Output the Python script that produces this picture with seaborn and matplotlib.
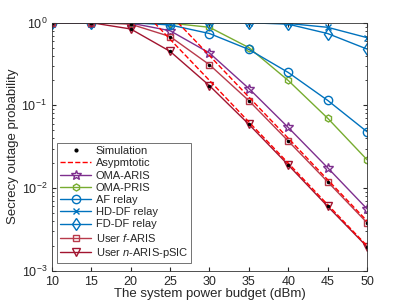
import matplotlib
matplotlib.use("Agg")
import matplotlib.pyplot as plt
import seaborn as sns
import pandas as pd
import numpy as np
from matplotlib.lines import Line2D

# power budget (dBm)
power = [10, 15, 20, 25, 30, 35, 40, 45, 50]

oma_aris = [1.0, 1.0, 0.99, 0.80, 0.43, 0.16, 0.054, 0.0176, 0.0056]
oma_pris = [1.0, 1.0, 1.0, 0.99, 0.88, 0.50, 0.20, 0.070, 0.022]
af_relay = [1.0, 1.0, 1.0, 0.94, 0.74, 0.475, 0.25, 0.115, 0.048]
hd_df = [1.0, 1.0, 1.0, 1.0, 1.0, 1.0, 0.98, 0.88, 0.66]
fd_df = [1.0, 1.0, 1.0, 1.0, 1.0, 1.0, 0.96, 0.74, 0.48]
user_f = [1.0, 1.0, 0.96, 0.68, 0.31, 0.114, 0.037, 0.0119, 0.0038]
user_n = [1.0, 1.0, 0.84, 0.45, 0.173, 0.059, 0.019, 0.006, 0.00195]

# asymptotic curves
asym_f_x = [26, 30, 35, 40, 45, 50]
asym_f_y = [1.0, 0.40, 0.126, 0.040, 0.0126, 0.0040]
asym_n_x = [23, 25, 30, 35, 40, 45, 50]
asym_n_y = [1.0, 0.63, 0.20, 0.063, 0.020, 0.0063, 0.0020]

sns.set_style("ticks")
plt.rcParams['font.family'] = ['Liberation Sans', 'DejaVu Sans']
plt.rcParams['mathtext.fontset'] = 'custom'
plt.rcParams['mathtext.it'] = 'Liberation Sans:italic'
plt.rcParams['mathtext.rm'] = 'Liberation Sans'
plt.rcParams['xtick.direction'] = 'in'
plt.rcParams['ytick.direction'] = 'in'

fig = plt.figure(figsize=(4.06, 3.05), dpi=100)
ax = fig.add_axes([0.128, 0.1125, 0.776, 0.813])

purple = '#7E2F8E'
green = '#77AC30'
blue = '#0072BD'
red_f = '#B83A4B'
red_n = '#A2142F'

series = [
    ('OMA-ARIS', oma_aris, purple, '*', 7),
    ('OMA-PRIS', oma_pris, green, 'h', 5),
    ('AF relay', af_relay, blue, 'o', 6),
    ('HD-DF relay', hd_df, blue, 'x', 5),
    ('FD-DF relay', fd_df, blue, 'd', 6),
    ('User $f$-ARIS', user_f, red_f, 's', 5),
    ('User $n$-ARIS-pSIC', user_n, red_n, 'v', 6),
]

handles = [Line2D([], [], color='k', marker='.', linestyle='none', markersize=4),
           Line2D([], [], color='red', linestyle='--', linewidth=1.0)]
labels = ['Simulation', 'Asypmtotic']

for name, vals, col, mk, ms in series:
    sns.lineplot(x=power, y=vals, ax=ax, color=col, linewidth=1.0, legend=False)
    ln = ax.lines[-1]
    ln.set_marker(mk)
    ln.set_markersize(ms)
    ln.set_markerfacecolor('none')
    ln.set_markeredgecolor(col)
    ln.set_markeredgewidth(1.0)
    handles.append(Line2D([], [], color=col, marker=mk, markersize=ms,
                          markerfacecolor='none', markeredgecolor=col, linewidth=1.0))
    labels.append(name)

sns.lineplot(x=asym_f_x, y=asym_f_y, ax=ax, color='red', linestyle='--', linewidth=1.0, legend=False)
sns.lineplot(x=asym_n_x, y=asym_n_y, ax=ax, color='red', linestyle='--', linewidth=1.0, legend=False)

# simulation points
for vals in (user_f, user_n):
    ax.plot(power, vals, linestyle='none', marker='.', color='k', markersize=3)

ax.set_yscale('log')
ax.set_xlim(10, 50)
ax.set_ylim(1e-3, 1)
ax.set_xticks(power)
ax.tick_params(which='both', top=True, right=True, labelsize=9)
ax.tick_params(which='major', length=3)
ax.tick_params(which='minor', length=1.5)
for sp in ax.spines.values():
    sp.set_color('#333333')
    sp.set_linewidth(0.6)

ax.set_xlabel('The system power budget (dBm)', fontsize=9.5, labelpad=0)
ax.set_ylabel('Secrecy outage probability', fontsize=9.5, labelpad=2)

leg = ax.legend(handles, labels, loc='lower left', bbox_to_anchor=(0.015, 0.03),
                fontsize=8, frameon=True, fancybox=False, edgecolor='#333333',
                handlelength=2.8, handletextpad=0.4, labelspacing=0.2,
                borderpad=0.3, borderaxespad=0)
leg.get_frame().set_linewidth(0.6)

fig.savefig('out.png', dpi=100)
